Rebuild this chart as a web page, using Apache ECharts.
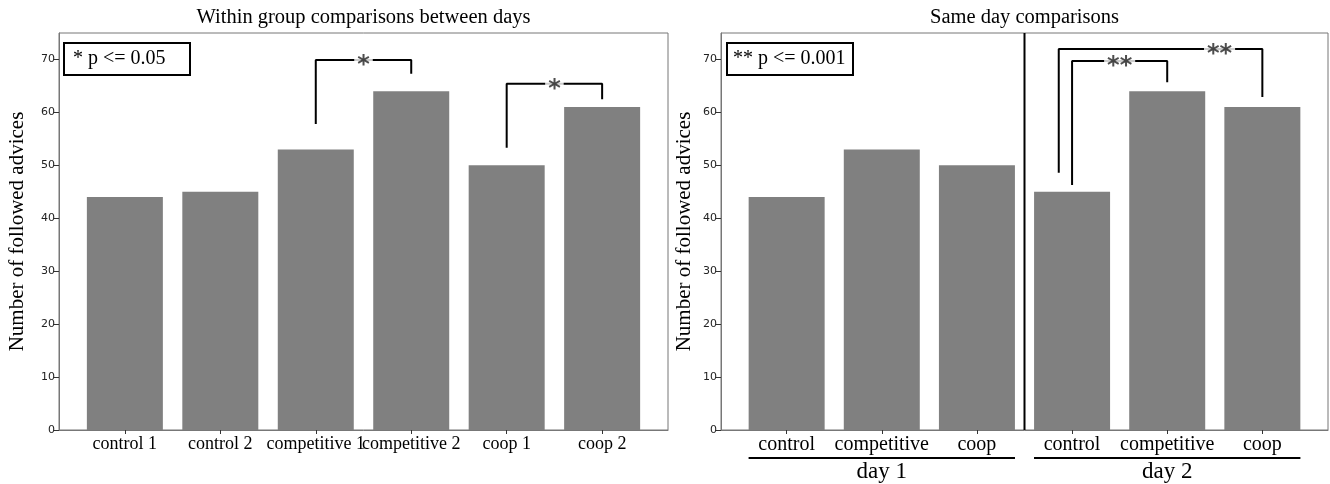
<!DOCTYPE html>
<html>
<head>
<meta charset="utf-8">
<script src="https://cdn.jsdelivr.net/npm/echarts@6/dist/echarts.min.js"></script>
<style>
  html, body { margin: 0; background: #fff; }
  #chart { width: 1330px; height: 484px; }
</style>
</head>
<body>
<div id="chart"></div>
<script>
const leftCategories = ['control 1', 'control 2', 'competitive 1', 'competitive 2', 'coop 1', 'coop 2'];
const leftValues = [44, 45, 53, 64, 50, 61];
const rightCategories = ['control', 'competitive', 'coop', 'control', 'competitive', 'coop'];
const rightValues = [44, 53, 50, 45, 64, 61];
const dayLabels = ['day 1', 'day 2'];
const dayCenters = [1, 4];
const dayGroups = [[0, 2], [3, 5]];
const yTicks = [0, 10, 20, 30, 40, 50, 60, 70];
const catTicks = [0, 1, 2, 3, 4, 5];
// bracket: [leftX, leftBottom, rightX, rightBottom, top, starX, stars]
const leftBrackets = [
  [2, 57.8, 3, 67.3, 69.9, 2.5, '*'],
  [4, 53.3, 5, 62.5, 65.4, 4.5, '*']
];
const rightBrackets = [
  [3, 46.3, 4, 65.7, 69.7, 3.5, '**'],
  [2.86, 48.6, 5, 62.9, 72.0, 4.55, '**']
];

const serif = 'Liberation Serif';
const frame = '#777';

const xAxisFor = (gridIndex, cats, fontSize) => ({
  type: 'value',
  gridIndex: gridIndex,
  position: 'bottom',
  min: -0.69,
  max: 5.69,
  splitLine: { show: false },
  axisLine: { show: true, onZero: false, lineStyle: { color: frame } },
  axisTick: { show: true, customValues: catTicks, length: 4, lineStyle: { color: '#333' } },
  axisLabel: {
    customValues: catTicks,
    formatter: (v) => cats[Math.round(v)],
    fontFamily: serif, fontSize: fontSize, color: '#000', margin: 5
  }
});

const yAxisFor = (gridIndex, nameGap) => ({
  type: 'value',
  gridIndex: gridIndex,
  min: 0,
  max: 75,
  name: 'Number of followed advices',
  nameLocation: 'middle',
  nameGap: nameGap,
  nameTextStyle: { fontFamily: serif, fontSize: 21, color: '#000' },
  splitLine: { show: false },
  axisLine: { show: true, onZero: false, lineStyle: { color: frame } },
  axisTick: { show: true, customValues: yTicks, length: 5, lineStyle: { color: '#333' } },
  axisLabel: { customValues: yTicks, fontFamily: 'DejaVu Sans', fontSize: 11, color: '#222', margin: 4 }
});

const bracketSeries = (brackets, idx) => {
  const out = [];
  brackets.forEach((b) => {
    out.push({
      type: 'line', xAxisIndex: idx, yAxisIndex: idx, silent: true, z: 5,
      symbol: 'none', lineStyle: { color: '#000', width: 2 },
      data: [[b[0], b[1]], [b[0], b[4]], [b[2], b[4]], [b[2], b[3]]]
    });
    out.push({
      type: 'scatter', xAxisIndex: idx, yAxisIndex: idx, silent: true, z: 6,
      symbolSize: 1, itemStyle: { color: 'rgba(0,0,0,0)' },
      data: [[b[5], b[4]]],
      label: {
        show: true, position: 'inside', formatter: b[6],
        fontFamily: 'DejaVu Sans', fontSize: 24, fontWeight: 'bold', color: '#222',
        backgroundColor: '#fff', padding: [0, 3], offset: [0, 6]
      }
    });
  });
  return out;
};

const chart = echarts.init(document.getElementById('chart'));

chart.setOption({
  animation: false,
  grid: [
    { left: 59, top: 33, width: 609, height: 397, show: true, borderColor: frame, borderWidth: 1 },
    { left: 721, top: 33, width: 607, height: 397, show: true, borderColor: frame, borderWidth: 1 }
  ],
  xAxis: [
    xAxisFor(0, leftCategories, 18),
    xAxisFor(1, rightCategories, 20),
    {
      type: 'value', gridIndex: 1, position: 'bottom', offset: 26,
      min: -0.69, max: 5.69,
      splitLine: { show: false }, axisLine: { show: false }, axisTick: { show: false },
      axisLabel: {
        customValues: dayCenters,
        formatter: (v) => dayLabels[dayCenters.indexOf(Math.round(v))],
        fontFamily: serif, fontSize: 23, color: '#000', margin: 4
      }
    }
  ],
  yAxis: [yAxisFor(0, 31), yAxisFor(1, 26)],
  series: [
    {
      type: 'bar', xAxisIndex: 0, yAxisIndex: 0, silent: true, barWidth: 76,
      itemStyle: { color: '#808080' },
      data: leftValues.map((v, i) => [i, v])
    },
    {
      type: 'bar', xAxisIndex: 1, yAxisIndex: 1, silent: true, barWidth: 76,
      itemStyle: { color: '#808080' },
      data: rightValues.map((v, i) => [i, v])
    },
    {
      type: 'line', xAxisIndex: 1, yAxisIndex: 1, silent: true, z: 5,
      symbol: 'none', lineStyle: { color: '#000', width: 2 },
      data: [[2.5, 0], [2.5, 75]]
    },
    ...bracketSeries(leftBrackets, 0),
    ...bracketSeries(rightBrackets, 1)
  ]
});

// texts, p-value boxes and day underlines
const underlines = dayGroups.map((g) => {
  const a = chart.convertToPixel({ gridIndex: 1 }, [g[0] - 0.4, 0]);
  const b = chart.convertToPixel({ gridIndex: 1 }, [g[1] + 0.4, 0]);
  return {
    type: 'line', silent: true,
    shape: { x1: a[0], y1: a[1] + 28, x2: b[0], y2: b[1] + 28 },
    style: { stroke: '#000', lineWidth: 2 }
  };
});

const textEl = (x, y, text, size, align) => ({
  type: 'text', x: x, y: y, silent: true,
  style: {
    text: text, fill: '#000', fontFamily: serif, fontSize: size,
    align: align, textAlign: align, verticalAlign: 'middle', textVerticalAlign: 'middle'
  }
});

chart.setOption({
  graphic: [
    textEl(363.5, 18, 'Within group comparisons between days', 20.5, 'center'),
    textEl(1024.5, 18, 'Same day comparisons', 20.5, 'center'),
    {
      type: 'rect', silent: true,
      shape: { x: 64, y: 43, width: 126, height: 32 },
      style: { fill: '#fff', stroke: '#000', lineWidth: 2 }
    },
    textEl(73, 59, '* p <= 0.05', 20, 'left'),
    {
      type: 'rect', silent: true,
      shape: { x: 727, y: 43, width: 126, height: 32 },
      style: { fill: '#fff', stroke: '#000', lineWidth: 2 }
    },
    textEl(733, 59, '** p <= 0.001', 20, 'left'),
    ...underlines
  ]
});
</script>
</body>
</html>
